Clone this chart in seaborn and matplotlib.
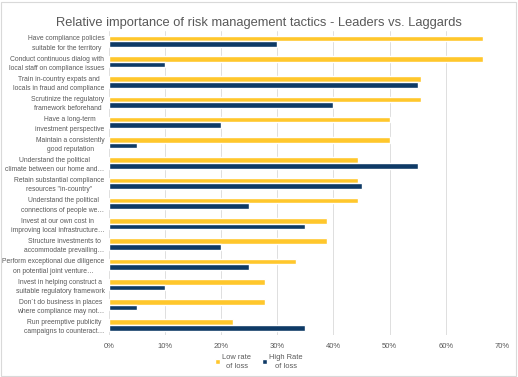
import pandas as pd
import matplotlib
matplotlib.use("Agg")
import matplotlib.pyplot as plt
import seaborn as sns
from matplotlib.patches import Rectangle
from matplotlib.ticker import PercentFormatter

# ── data ─────────────────────────────────────────────────────────────────────
tactics = [
    "Have compliance policies\nsuitable for the territory",
    "Conduct continuous dialog with\nlocal staff on compliance issues",
    "Train in-country expats and\nlocals in fraud and compliance",
    "Scrutinize the regulatory\nframework beforehand",
    "Have a long-term\ninvestment perspective",
    "Maintain a consistently\ngood reputation",
    "Understand the political\nclimate between our home and…",
    "Retain substantial compliance\nresources \"in-country\"",
    "Understand the political\nconnections of people we…",
    "Invest at our own cost in\nimproving local infrastructure…",
    "Structure investments to\naccommodate prevailing…",
    "Perform exceptional due diligence\non potential joint venture…",
    "Invest in helping construct a\nsuitable regulatory framework",
    "Don´t do business in places\nwhere compliance may not…",
    "Run preemptive publicity\ncampaigns to counteract…",
]
low_rate  = [66.7, 66.7, 55.6, 55.6, 50.0, 50.0, 44.4, 44.4, 44.4, 38.9, 38.9, 33.3, 27.8, 27.8, 22.2]
high_rate = [30.0, 10.0, 55.0, 40.0, 20.0, 5.0, 55.0, 45.0, 25.0, 35.0, 20.0, 25.0, 10.0, 5.0, 35.0]
series = ["Low rate\nof loss", "High Rate\nof loss"]

YELLOW = "#FFC72C"
NAVY = "#0E3A66"
GREY_TXT = "#595959"

df = pd.DataFrame({
    "tactic": tactics * 2,
    "share": low_rate + high_rate,
    "group": [series[0]] * len(tactics) + [series[1]] * len(tactics),
})

sns.set_theme(style="white")
plt.rcParams["font.family"] = ["Liberation Sans", "DejaVu Sans"]

fig = plt.figure(figsize=(5.18, 3.77), dpi=100)
ax = fig.add_axes([0.210, 0.111, 0.759, 0.806])

sns.barplot(data=df, y="tactic", x="share", hue="group", order=tactics,
            hue_order=series, palette=[YELLOW, NAVY], width=0.55,
            orient="h", ax=ax, saturation=1)

ax.set_xlim(0, 70)
ax.set_xticks(range(0, 71, 10))
ax.xaxis.set_major_formatter(PercentFormatter(decimals=0))
ax.set_xlabel("")
ax.set_ylabel("")
ax.grid(axis="x", color="#D9D9D9", linewidth=0.6)
ax.set_axisbelow(True)
for s in ax.spines.values():
    s.set_visible(False)
ax.tick_params(axis="x", labelsize=5.5, colors=GREY_TXT, length=0, pad=6)
ax.tick_params(axis="y", labelsize=4.85, colors=GREY_TXT, length=0, pad=3)
for t in ax.get_yticklabels():
    t.set_multialignment("center")
    t.set_linespacing(1.45)

handles, labels = ax.get_legend_handles_labels()
ax.legend_.remove()
leg = fig.legend(handles, labels, loc="center", bbox_to_anchor=(0.50, 0.04), ncol=2,
                 frameon=False, fontsize=5.4, labelcolor=GREY_TXT, handlelength=0.65,
                 handleheight=0.65, handletextpad=0.3, columnspacing=1.5)
for t in leg.get_texts():
    t.set_multialignment("center")
    t.set_linespacing(1.3)

fig.suptitle("Relative importance of risk management tactics - Leaders vs. Laggards",
             x=0.5, y=0.955, fontsize=9.3, color=GREY_TXT)

fig.patches.append(Rectangle((0.002, 0.003), 0.995, 0.993, transform=fig.transFigure,
                             fill=False, edgecolor="#D9D9D9", linewidth=0.8))

fig.savefig("out.png", dpi=100)
